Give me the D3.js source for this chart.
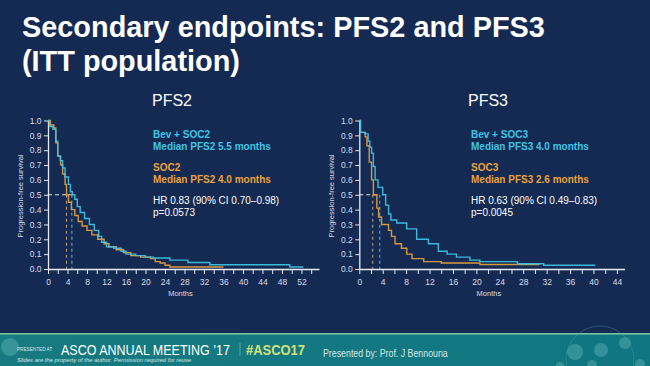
<!DOCTYPE html>
<html>
<head>
<meta charset="utf-8">
<script src="https://cdn.jsdelivr.net/npm/d3@7"></script>
<style>
  html, body { margin: 0; padding: 0; background: #142a52; }
  svg { display: block; font-family: "Liberation Sans", Arial, sans-serif; }
</style>
</head>
<body>
<script>
"use strict";

// Data

// PFS2 panel: Bev + SOC2 (cyan) and SOC2 (orange)
const pfs2BevMonths = [0, 0.3, 1.0, 1.6, 2.0, 2.5, 3.0, 3.5, 4.2, 4.6, 5.0, 5.5, 6.0, 6.6, 7.5, 8.5, 9.5, 10.4, 11.0, 12.0, 13.5, 15.0, 16.0, 18.0, 20.0, 21.6, 25.0, 28.7, 33.2, 49.6, 52.4];
const pfs2BevSurv   = [1.0, 0.96, 0.94, 0.86, 0.76, 0.73, 0.68, 0.62, 0.57, 0.52, 0.50, 0.47, 0.42, 0.38, 0.34, 0.30, 0.26, 0.22, 0.18, 0.15, 0.14, 0.12, 0.10, 0.09, 0.08, 0.074, 0.06, 0.044, 0.029, 0.013, 0.013];
const pfs2SocMonths = [0, 0.5, 1.2, 1.6, 2.0, 2.6, 3.0, 3.5, 3.8, 4.2, 4.8, 5.5, 6.2, 7.0, 8.0, 9.0, 10.2, 11.5, 12.5, 14.0, 15.5, 17.0, 19.0, 21.0, 22.0, 23.0, 24.0, 25.0, 36.0];
const pfs2SocSurv   = [1.0, 0.97, 0.95, 0.85, 0.76, 0.70, 0.64, 0.57, 0.50, 0.45, 0.40, 0.36, 0.32, 0.29, 0.26, 0.23, 0.20, 0.17, 0.15, 0.13, 0.11, 0.09, 0.08, 0.07, 0.05, 0.04, 0.025, 0.013, 0.013];

// PFS3 panel: Bev + SOC3 (cyan) and SOC3 (orange)
const pfs3BevMonths = [0, 0.2, 1.0, 1.5, 1.8, 2.1, 2.4, 2.7, 3.2, 4.0, 4.5, 5.0, 5.4, 6.4, 8.1, 9.8, 11.8, 13.5, 15.0, 16.6, 18.9, 20.6, 27.0, 31.5, 40.3];
const pfs3BevSurv   = [1.0, 0.92, 0.91, 0.86, 0.82, 0.78, 0.69, 0.60, 0.55, 0.50, 0.43, 0.37, 0.33, 0.31, 0.27, 0.20, 0.17, 0.12, 0.10, 0.08, 0.06, 0.05, 0.035, 0.025, 0.025];
const pfs3SocMonths = [0, 0.2, 1.0, 1.3, 1.7, 2.1, 2.4, 3.0, 3.3, 3.8, 5.0, 5.5, 6.1, 7.2, 8.1, 9.0, 11.0, 14.0, 20.6, 30.8];
const pfs3SocSurv   = [1.0, 0.92, 0.89, 0.83, 0.72, 0.60, 0.50, 0.41, 0.35, 0.30, 0.26, 0.22, 0.17, 0.14, 0.10, 0.07, 0.05, 0.04, 0.03, 0.03];

// Where the median guide lines are drawn (months)
const pfs2Medians = [4.9, 3.8];
const pfs3Medians = [3.5, 2.3];

// Text
const pfs2Legend = ["Bev + SOC2", "Median PFS2 5.5 months", "SOC2", "Median PFS2 4.0 months", "HR 0.83 (90% CI 0.70\u20130.98)", "p=0.0573"];
const pfs3Legend = ["Bev + SOC3", "Median PFS3 4.0 months", "SOC3", "Median PFS3 2.6 months", "HR 0.63 (90% CI 0.49\u20130.83)", "p=0.0045"];
const yTicks = [0, 0.1, 0.2, 0.3, 0.4, 0.5, 0.6, 0.7, 0.8, 0.9, 1.0];

// Sizes and colours

const width = 650;
const height = 366;
const cyan = "#3fc5e6";
const orange = "#e9a23c";
const axisColor = "#e6eaf2";
const bg = "#142a52";

const svg = d3.select("body").append("svg")
    .attr("width", width)
    .attr("height", height);

svg.append("rect").attr("width", width).attr("height", height).attr("fill", bg);

// Horizontally squeezed text, so its box matches the drawn width
const squeezed = (txt, x0, y0, size, targetW, opts) => {
    const t = svg.append("text")
        .attr("font-size", size)
        .attr("fill", opts.fill)
        .attr("font-weight", opts.weight || "normal")
        .attr("font-style", opts.style || "normal")
        .text(txt);
    const w = t.node().getComputedTextLength();
    t.attr("transform", `translate(${x0},${y0}) scale(${targetW / w},1)`);
    return t;
};

/*********
 * Title *
 *********/

squeezed("Secondary endpoints: PFS2 and PFS3", 22, 37, 30, 523, { fill: "white", weight: "bold" });
squeezed("(ITT population)", 22, 71, 30, 218, { fill: "white", weight: "bold" });

/**************
 * KM panels  *
 **************/

const renderPanel = (cfg) => {
    const x = d3.scaleLinear().domain([0, cfg.xMax]).range([cfg.left, cfg.right]);
    const y = d3.scaleLinear().domain([0, 1]).range([269, 120.5]);
    const g = svg.append("g");

    // Panel heading
    g.append("text")
        .attr("x", cfg.headX).attr("y", 106)
        .attr("text-anchor", "middle")
        .attr("fill", "white").attr("font-size", 16)
        .text(cfg.title);

    // x axis
    const xTickVals = d3.range(0, cfg.lastTick + 1, 2);
    const xAxis = g.append("g")
        .attr("transform", `translate(0,${y(0)})`)
        .call(d3.axisBottom(x)
            .tickValues(xTickVals)
            .tickSize(5)
            .tickSizeOuter(0)
            .tickFormat(d => d % 4 === 0 ? d : ""));

    // y axis
    const yAxis = g.append("g")
        .attr("transform", `translate(${cfg.left},0)`)
        .call(d3.axisLeft(y)
            .tickValues(yTicks)
            .tickSize(4)
            .tickSizeOuter(0)
            .tickFormat(d3.format(".1f")));

    [xAxis, yAxis].forEach(a => {
        a.select(".domain").attr("stroke", axisColor).attr("stroke-width", 1.3);
        a.selectAll(".tick line").attr("stroke", axisColor).attr("stroke-width", 1);
        a.selectAll(".tick text")
            .attr("fill", "#d7deea")
            .attr("font-size", 8.5)
            .attr("font-family", "Liberation Sans, Arial, sans-serif");
    });
    xAxis.selectAll(".tick text").attr("dy", "0.9em");
    yAxis.selectAll(".tick text").attr("x", -6.5);

    // Axis titles
    g.append("text")
        .attr("x", (cfg.left + cfg.right) / 2 - 3).attr("y", 296)
        .attr("text-anchor", "middle")
        .attr("fill", "#d7deea").attr("font-size", 7.5)
        .text("Months");

    g.append("text")
        .attr("transform", `translate(${cfg.left - 25},196) rotate(-90)`)
        .attr("text-anchor", "middle")
        .attr("fill", "#d7deea").attr("font-size", 7.5)
        .text("Progression-free survival");

    // Median guide lines
    const [medBev, medSoc] = cfg.medians;
    g.append("line")
        .attr("x1", x(0)).attr("x2", x(medBev))
        .attr("y1", y(0.5)).attr("y2", y(0.5))
        .attr("stroke", "#dfe4ee").attr("stroke-width", 1)
        .attr("stroke-dasharray", "4,3");
    g.append("line")
        .attr("x1", x(medSoc)).attr("x2", x(medSoc))
        .attr("y1", y(0.5)).attr("y2", y(0))
        .attr("stroke", "#c8a57a").attr("stroke-width", 1)
        .attr("stroke-dasharray", "3,3");
    g.append("line")
        .attr("x1", x(medBev)).attr("x2", x(medBev))
        .attr("y1", y(0.5)).attr("y2", y(0))
        .attr("stroke", "#52c2e2").attr("stroke-width", 1)
        .attr("stroke-dasharray", "3,3");

    // Curves
    const line = d3.line()
        .x(d => x(d[0]))
        .y(d => y(d[1]))
        .curve(d3.curveStepAfter);

    cfg.series.forEach(s => {
        g.append("path")
            .datum(d3.zip(s.months, s.surv))
            .attr("d", line)
            .attr("fill", "none")
            .attr("stroke", s.color)
            .attr("stroke-width", 1.4)
            .attr("stroke-opacity", 0.92);
    });

    // Legend text
    const lx = cfg.legendX;
    const legendRows = [
        { t: cfg.legend[0], y: 138, c: cyan, b: true },
        { t: cfg.legend[1], y: 150, c: cyan, b: true },
        { t: cfg.legend[2], y: 171, c: orange, b: true },
        { t: cfg.legend[3], y: 183, c: orange, b: true },
        { t: cfg.legend[4], y: 204, c: "white", b: false },
        { t: cfg.legend[5], y: 216, c: "white", b: false }
    ];
    g.selectAll(".legend")
        .data(legendRows)
        .enter()
        .append("text")
        .attr("x", lx)
        .attr("y", d => d.y)
        .attr("fill", d => d.c)
        .attr("font-size", 10)
        .attr("font-weight", d => d.b ? "bold" : "normal")
        .text(d => d.t);
};

renderPanel({
    title: "PFS2", headX: 172,
    left: 48, right: 319, xMax: 55.6, lastTick: 54,
    legendX: 153, legend: pfs2Legend, medians: pfs2Medians,
    series: [
        { months: pfs2SocMonths, surv: pfs2SocSurv, color: orange },
        { months: pfs2BevMonths, surv: pfs2BevSurv, color: cyan }
    ]
});

renderPanel({
    title: "PFS3", headX: 488,
    left: 359.3, right: 624.5, xMax: 45.3, lastTick: 44,
    legendX: 471, legend: pfs3Legend, medians: pfs3Medians,
    series: [
        { months: pfs3SocMonths, surv: pfs3SocSurv, color: orange },
        { months: pfs3BevMonths, surv: pfs3BevSurv, color: cyan }
    ]
});

/**********
 * Footer *
 **********/

const defs = svg.append("defs");
const grad = defs.append("linearGradient").attr("id", "foot").attr("x1", 0).attr("x2", 1);
grad.append("stop").attr("offset", 0).attr("stop-color", "#177a80");
grad.append("stop").attr("offset", 1).attr("stop-color", "#0f7682");

svg.append("rect")
    .attr("x", 0).attr("y", 334).attr("width", width).attr("height", 32)
    .attr("fill", "url(#foot)");
svg.append("rect")
    .attr("x", 0).attr("y", 333).attr("width", width).attr("height", 1.6)
    .attr("fill", "#79c39a");

// faint network decoration
const deco = svg.append("g").attr("fill", "#5fb3b6").attr("fill-opacity", 0.45);
[[575, 352, 8], [601, 350, 7], [625, 343, 6], [592, 365, 5], [640, 364, 5], [560, 366, 4], [10, 347, 9]]
    .forEach(([cx, cy, r]) => deco.append("circle").attr("cx", cx).attr("cy", cy).attr("r", r));
svg.append("circle").attr("cx", 600).attr("cy", 360).attr("r", 34)
    .attr("fill", "none").attr("stroke", "#4fa6aa").attr("stroke-opacity", 0.35);

squeezed("PRESENTED AT:", 17, 351, 5, 36, { fill: "#dbe8e8" });
squeezed("ASCO ANNUAL MEETING \u201917", 61, 355, 15, 169, { fill: "white" });
squeezed("#ASCO17", 246, 355, 15, 59, { fill: "#d2e27a", weight: "bold" });
squeezed("Slides are the property of the author. Permission required for reuse.", 17, 362, 5.5, 176, { fill: "#dbe8e8", style: "italic" });
squeezed("Presented by: Prof. J Bennouna", 323, 357, 10, 125, { fill: "#d6e6e6" });

svg.append("line")
    .attr("x1", 240).attr("x2", 240).attr("y1", 343).attr("y2", 356)
    .attr("stroke", "#6fb0b0").attr("stroke-width", 0.8);
</script>
</body>
</html>
